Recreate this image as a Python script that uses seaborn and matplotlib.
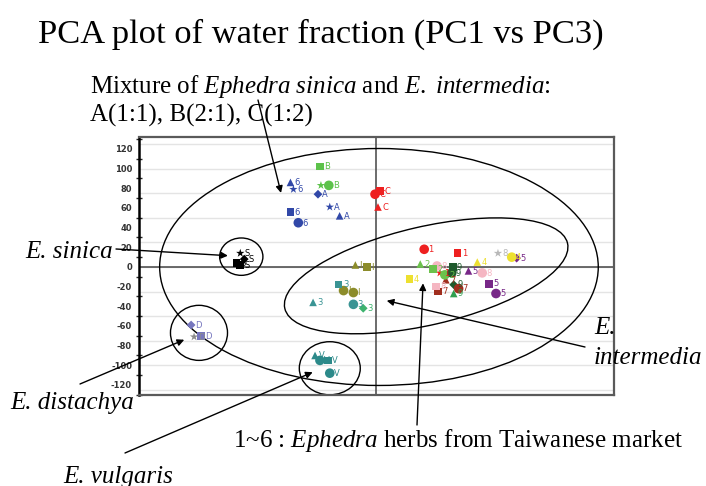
import matplotlib
matplotlib.use("Agg")
import matplotlib.pyplot as plt
from matplotlib.patches import Ellipse
import numpy as np
import pandas as pd
import seaborn as sns

# ---------------- data ----------------
pc1 = [-87, -84, -87, -79, -59, -47, -37,
       -57, -56, -48,
       -1, 4, 2,
       -138, -134, -142, -138,
       -21, -9, -33, -23,
       -38, -64, -23, -13,
       -188, -185, -178,
       -62, -57, -49, -47,
       49, 83, 65,
       45, 58, 70,
       138, 103, 34,
       143, 94, 115, 122,
       71, 63, 84,
       124, 62, 108, 61,
       78, 77, 79, 79]
pc3 = [86, 79, 56, 45, 74, 61, 52,
       102, 83, 83,
       74, 77, 61,
       14, 8, 4, 2,
       2, 0, -24, -26,
       -18, -36, -38, -42,
       -59, -71, -70,
       -90, -95, -95, -108,
       18, 14, -6,
       3, -2, -8,
       10, 5, -12,
       9, -4, -17, -27,
       -13, -25, -22,
       14, 1, -6, -20,
       0, -6, -18, -27]
tags = ['6', '6', '6', '6', 'A', 'A', 'A',
        'B', 'B', 'B',
        'C', 'C', 'C',
        'S', 'S', 'S', 'S',
        'I', 'I', 'I', 'I',
        '3', '3', '3', '3',
        'D', 'D', 'D',
        'V', 'V', 'V', 'V',
        '1', '1', '1',
        '2', '2', '2',
        '4', '4', '4',
        '5', '5', '5', '5',
        '7', '7', '7',
        '8', '8', '8', '8',
        '9', '9', '9', '9']
groups = ['blue'] * 7 + ['green'] * 3 + ['red'] * 3 + ['black'] * 4 + \
         ['olive'] * 4 + ['teal', 'teal', 'teal', 'sea'] + \
         ['slate', 'grayd', 'slate'] + ['vteal'] * 4 + ['red'] * 3 + \
         ['lgreen'] * 3 + ['yellow'] * 3 + ['purple'] * 4 + ['dred'] * 3 + \
         ['lgray', 'pink', 'pink', 'pink'] + ['dgreen', 'dgreen', 'dgreen', 'g9']
shapes = ['^', '*', 's', 'o', 'D', '*', '^',
          's', '*', 'o',
          'o', 's', '^',
          '*', 'D', 's', 's',
          '^', 's', 'o', 'o',
          's', '^', 'o', 'D',
          'D', '*', 's',
          '^', 'o', 's', 'o',
          'o', 's', '*',
          '^', 's', 'o',
          'o', '^', 's',
          'D', '^', 's', 'o',
          '^', 's', 'o',
          '*', 'o', 'o', 's',
          's', 'o', 'D', '^']

palette = {'blue': '#3148A8', 'green': '#5CC24A', 'red': '#EE2020', 'black': '#000000',
           'olive': '#8C8C2A', 'teal': '#3A9494', 'sea': '#3DB36E', 'slate': '#7676BE',
           'grayd': '#8C8C8C', 'vteal': '#2C8A8A', 'lgreen': '#6CC24C', 'yellow': '#EDE030',
           'purple': '#782888', 'dred': '#A02E1E', 'lgray': '#B8B8B8', 'pink': '#F5B6C2',
           'dgreen': '#1F5A2C', 'g9': '#2FA050'}
sizes = {'o': 48, 's': 30, '^': 30, 'D': 20, '*': 40}

df = pd.DataFrame({'pc1': pc1, 'pc3': pc3, 'tag': tags, 'grp': groups, 'shape': shapes})

# ---------------- figure ----------------
W, H = 706, 486
sns.set_style("white")
plt.rcParams['mathtext.fontset'] = 'custom'
plt.rcParams['mathtext.rm'] = 'Liberation Serif'
plt.rcParams['mathtext.it'] = 'Liberation Serif:italic'
plt.rcParams['text.color'] = 'black'
plt.rcParams['axes.unicode_minus'] = False

fig = plt.figure(figsize=(W / 100, H / 100), dpi=100)
ax = fig.add_axes([139 / W, 1 - 395 / H, (614 - 139) / W, (395 - 137) / H])

def fpx(x, y):
    return (x / W, 1 - y / H)

# grid lines
for g in np.arange(-125, 130, 25):
    ax.axhline(g, color='#E4E4E4', lw=1, zorder=0)
ax.axhline(0, color='#444444', lw=1.1, zorder=1)
ax.axvline(0, color='#444444', lw=1.1, zorder=1)

for m, sub in df.groupby('shape'):
    sns.scatterplot(data=sub, x='pc1', y='pc3', hue='grp', palette=palette,
                    marker=m, s=sizes[m], linewidth=0, legend=False, ax=ax, zorder=3)

for _, r in df.iterrows():
    ax.annotate(r['tag'], (r['pc1'], r['pc3']), xytext=(3, -2), textcoords='offset points',
                fontsize=6, color=palette[r['grp']], family='DejaVu Sans', zorder=4)

# ellipses
ells = [((3, 0), 446, 241, 0), ((51, -9), 295, 100, 13), ((-137, 10.5), 44, 38, 0),
        ((-180, -67), 58, 56, 0), ((-47, -103), 62, 54, 0)]
for c, w, h, a in ells:
    ax.add_patch(Ellipse(c, w, h, angle=a, fill=False, ec='black', lw=1, zorder=2))

ax.set_xlim(-241, 242)
ax.set_ylim(-130.2, 132.2)
ax.set_xlabel('')
ax.set_ylabel('')
ax.set_xticks([])
ax.set_yticks(np.arange(-120, 121, 20))
ax.set_yticks(np.arange(-130, 131, 10), minor=True)
ax.tick_params(axis='y', which='major', direction='inout', length=6, width=1,
               labelsize=6, labelcolor='#333333', pad=2)
ax.tick_params(axis='y', which='minor', direction='inout', length=4, width=1, left=True)
for lbl in ax.get_yticklabels():
    lbl.set_fontweight('bold')
for s in ['top', 'right', 'bottom']:
    ax.spines[s].set_color('#5A5A5A')
    ax.spines[s].set_linewidth(1.6)
ax.spines['left'].set_color('black')
ax.spines['left'].set_linewidth(1.8)

# ---------------- texts ----------------
serif = 'Liberation Serif'
fs = 18
fig.text(*fpx(38, 43), 'PCA plot of water fraction (PC1 vs PC3)', fontsize=24.8,
         family=serif, va='baseline', ha='left')
fig.text(*fpx(90, 93), r'Mixture of $\mathit{Ephedra\ sinica}$ and $\mathit{E.\ intermedia}$:',
         fontsize=fs, family=serif, va='baseline')
fig.text(*fpx(90, 122), 'A(1:1), B(2:1), C(1:2)', fontsize=fs, family=serif, va='baseline')
fig.text(*fpx(25, 258), 'E. sinica', fontsize=fs, family=serif, style='italic', va='baseline')
fig.text(*fpx(10, 409), 'E. distachya', fontsize=fs, family=serif, style='italic', va='baseline')
fig.text(*fpx(63, 483), 'E. vulgaris', fontsize=fs, family=serif, style='italic', va='baseline')
fig.text(*fpx(594, 334), 'E.', fontsize=fs, family=serif, style='italic', va='baseline')
fig.text(*fpx(594, 364), 'intermedia', fontsize=fs, family=serif, style='italic', va='baseline')
fig.text(*fpx(233, 447), r'1~6 : $\mathit{Ephedra}$ herbs from Taiwanese market', fontsize=fs,
         family=serif, va='baseline')

arrows = [((-96.6, 75.3), (258, 100)), ((-150.6, 11.5), (116, 249)),
          ((-195, -74), (80, 384)), ((-64.4, -107), (125, 453)),
          ((10.9, -34.3), (585, 347)), ((47.8, -16.6), (417, 425))]
for head, start in arrows:
    ax.annotate('', xy=head, xycoords='data', xytext=fpx(*start), textcoords='figure fraction',
                arrowprops=dict(arrowstyle='-|>', color='black', lw=1, mutation_scale=10,
                                shrinkA=0, shrinkB=0), annotation_clip=False, zorder=5)

fig.savefig('out.png', dpi=100)
